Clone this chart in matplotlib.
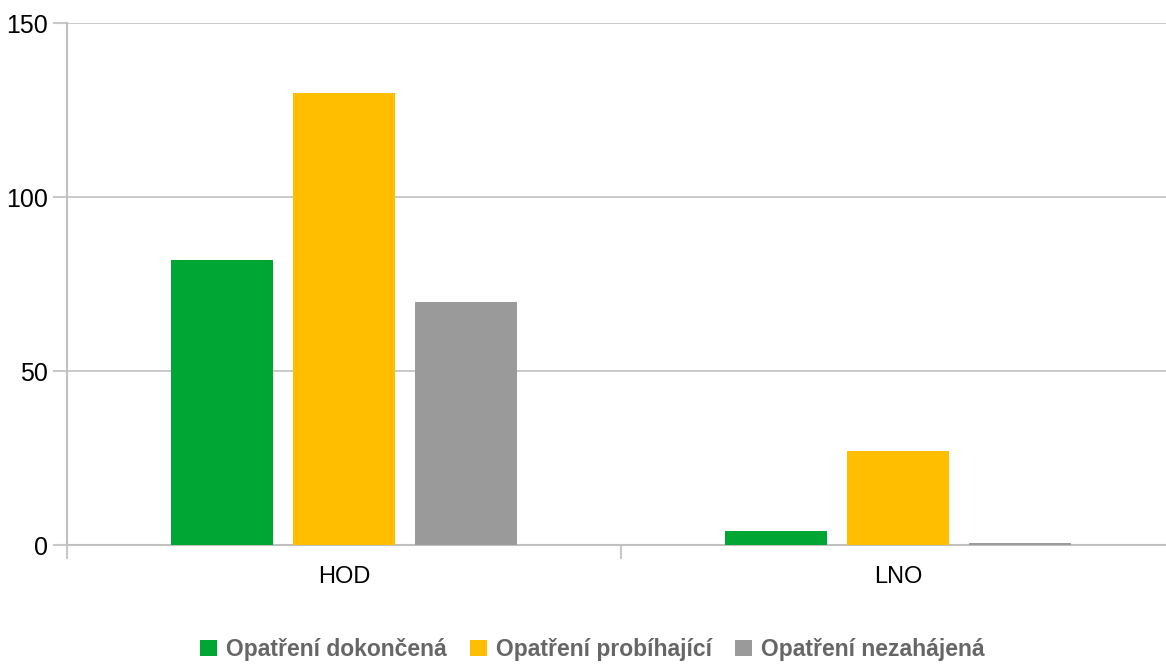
"""Opatření HOD / LNO - grouped bars."""
import numpy as np
import matplotlib
matplotlib.use("Agg")
import matplotlib.pyplot as plt
from matplotlib.patches import Patch

# data
categories = ["HOD", "LNO"]
series = ["Opatření dokončená", "Opatření probíhající", "Opatření nezahájená"]
done = [82, 4]
running = [130, 27]
not_started = [70, 0.6]
colors = ["#00a634", "#ffbf00", "#9a9a9a"]

plt.rcParams["font.family"] = ["Liberation Sans Narrow", "Liberation Sans", "DejaVu Sans"]

fig = plt.figure(figsize=(11.66, 6.64), dpi=100)
# axes runs a bit past the right edge of the picture, like the original
ax = fig.add_axes([0.0575, 0.179, 0.950, 0.786])

x = np.arange(len(categories))
width = 0.184
step = 0.220
for i, (vals, c) in enumerate(zip([done, running, not_started], colors)):
    ax.bar(x + (i - 1) * step, vals, width, color=c, zorder=3)

ax.set_xlim(-0.5, 1.5)
ax.set_ylim(0, 150)
ax.set_yticks([0, 50, 100, 150])
ax.tick_params(axis="y", length=10, width=1.5, color="#c8c8c8", labelsize=18, pad=4)
ax.yaxis.grid(True, color="#c0c0c0", linewidth=1.2, zorder=0)

# category labels centred, boundary ticks
ax.set_xticks(x)
ax.set_xticklabels(categories, fontsize=17)
ax.tick_params(axis="x", which="major", length=0, pad=15)
ax.set_xticks([-0.5, 0.5, 1.5], minor=True)
ax.tick_params(axis="x", which="minor", length=10, width=1.5, color="#c8c8c8")

for s in ["top", "right"]:
    ax.spines[s].set_visible(False)
for s in ["left", "bottom"]:
    ax.spines[s].set_color("#c0c0c0")
    ax.spines[s].set_linewidth(1.5)

handles = [Patch(facecolor=c, label=l) for c, l in zip(colors, series)]
fig.legend(handles=handles, loc="center", bbox_to_anchor=(0.508, 0.022), ncol=3,
           frameon=False, handlelength=0.75, handleheight=0.75,
           handletextpad=0.4, columnspacing=1.0, labelcolor="#666666",
           prop={"weight": "bold", "size": 16.5})

fig.savefig("out.png", dpi=100)
